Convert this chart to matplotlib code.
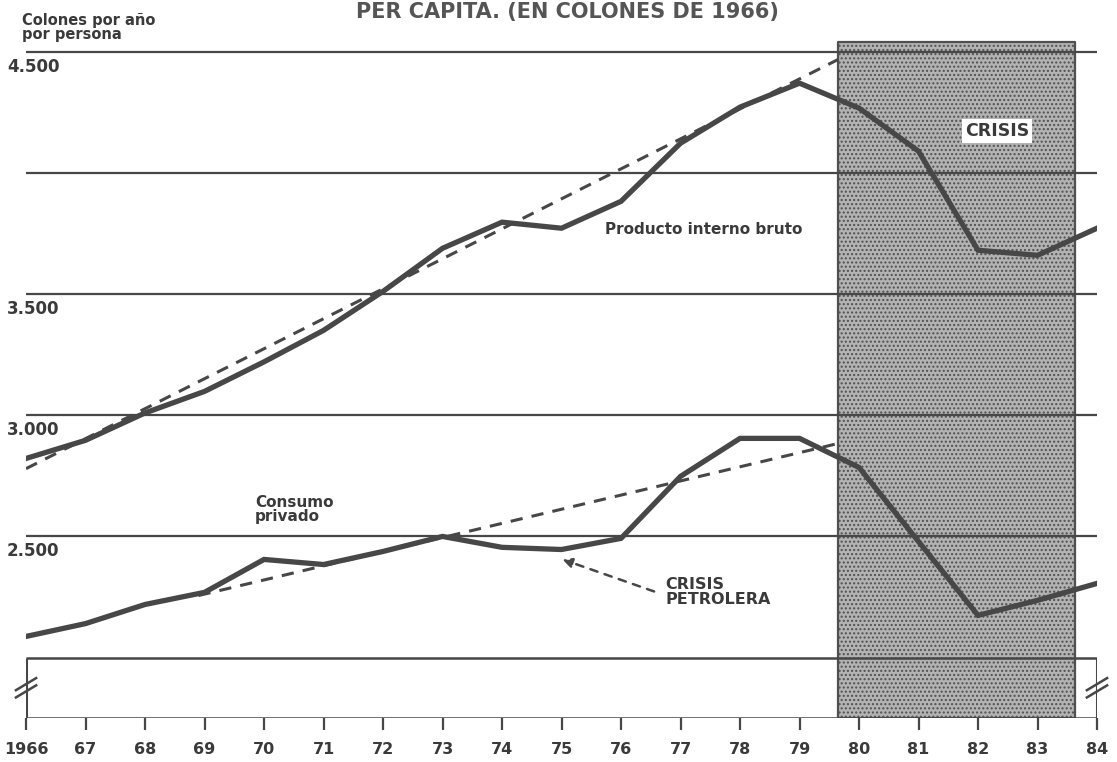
import matplotlib.pyplot as plt
from matplotlib.lines import Line2D

# valores (colones de 1966 por persona)
anios = list(range(1966, 1985))
etiquetas_anios = ['1966'] + [str(a)[2:] for a in anios[1:]]
pib = [2822, 2897, 3010, 3099, 3221, 3351, 3512, 3690, 3798, 3773,
       3884, 4124, 4273, 4372, 4269, 4091, 3682, 3661, 3773]
consumo = [2087, 2140, 2219, 2269, 2405, 2384, 2438, 2500, 2455, 2446,
           2492, 2748, 2905, 2905, 2785, 2479, 2174, 2236, 2306]

# tendencias (lineas punteadas)
tend_pib_x = [1966, 1979.65]
tend_pib = [2780, 4470]
tend_cons_x = [1968.9, 1979.65]
tend_cons = [2256, 2884]

grid_vals = [2500, 3000, 3500, 4000, 4500]
grid_labels = {4500: '4.500', 3500: '3.500', 3000: '3.000', 2500: '2.500'}
crisis = (1979.65, 1983.63)

tinta = '#474747'
texto = '#3a3a3a'

fig = plt.figure(figsize=(11.17, 7.62), dpi=100)
ax = fig.add_axes([0.0233, 0.0577, 0.9588, 0.9056])
ax.set_xlim(1966, 1984)
ax.set_ylim(1750, 4600)
for s in ax.spines.values():
    s.set_visible(False)

# zona de crisis sombreada
ax.fill_between(list(crisis), 1750, 4540, facecolor='#b3b3b3', edgecolor='#505050',
                linewidth=1.6, hatch='....', zorder=1)

# lineas horizontales
ax.hlines(grid_vals, 1966, 1984, color=tinta, linewidth=1.6, zorder=2)
for v, lab in grid_labels.items():
    ax.text(-0.0177, v - 22, lab, transform=ax.get_yaxis_transform(), ha='left', va='top',
            fontsize=12, fontweight='bold', color=texto)

# caja con corte del eje
ax.hlines([1750, 2000], 1966, 1984, color=tinta, linewidth=1.8, zorder=2)
ax.vlines([1966, 1984], 1750, 2000, color=tinta, linewidth=2.2, zorder=2)
for xb in (1966, 1984):
    for dy in (0, 30):
        ax.add_line(Line2D([xb - 0.17, xb + 0.17], [1835 + dy, 1885 + dy], color=tinta,
                           linewidth=1.8, clip_on=False, zorder=3))

# series
ax.plot(tend_pib_x, tend_pib, color=tinta, linewidth=2.2, linestyle=(0, (4, 3)), zorder=3)
ax.plot(tend_cons_x, tend_cons, color=tinta, linewidth=2.2, linestyle=(0, (4, 3)), zorder=3)
ax.plot(anios, pib, color=tinta, linewidth=3.8, solid_joinstyle='miter', zorder=4)
ax.plot(anios, consumo, color=tinta, linewidth=3.8, solid_joinstyle='miter', zorder=4)

# textos
ax.text(1975.73, 3769, 'Producto interno bruto', ha='left', va='center',
        fontsize=11, fontweight='bold', color=texto, zorder=5)
ax.text(1969.85, 2612, 'Consumo\nprivado', ha='left', va='center', linespacing=0.95,
        fontsize=11, fontweight='bold', color=texto, zorder=5)
ax.text(1976.74, 2270, 'CRISIS\nPETROLERA', ha='left', va='center', linespacing=0.95,
        fontsize=11.5, fontweight='bold', color=texto, zorder=5)
ax.annotate('', xy=(1974.97, 2409), xytext=(1976.6, 2269),
            arrowprops=dict(arrowstyle='-|>', linestyle=(0, (3, 3)), color=tinta,
                            linewidth=1.8, mutation_scale=14))
ax.text(1982.32, 4174, 'CRISIS', ha='center', va='center', fontsize=12.5,
        fontweight='bold', color=texto, zorder=5,
        bbox=dict(facecolor='white', edgecolor='none', pad=2))

# eje x
ax.set_yticks([])
ax.set_xticks(anios)
ax.set_xticklabels(etiquetas_anios, fontsize=11.5, fontweight='bold', color=texto)
ax.tick_params(axis='x', direction='out', length=8.5, width=1.6, color=tinta, pad=9)

fig.text(0.0197, 0.983, 'Colones por año\npor persona', ha='left', va='top',
         fontsize=10.5, fontweight='bold', color=texto, linespacing=0.9)
fig.text(0.5076, 0.984, 'PER CAPITA. (EN COLONES DE 1966)', ha='center', va='center',
         fontsize=15, fontweight='bold', color='#555555')

fig.savefig('out.png', dpi=100)
